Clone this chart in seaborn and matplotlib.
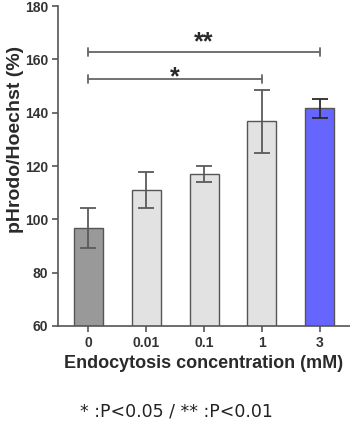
import matplotlib
matplotlib.use("Agg")
import matplotlib.pyplot as plt
import seaborn as sns
import pandas as pd

categories = ["0", "0.01", "0.1", "1", "3"]
means = [96.7, 111.0, 117.0, 136.7, 141.6]
errors = [7.5, 6.6, 3.0, 11.8, 3.5]
bar_colors = ["#999999", "#e2e2e2", "#e2e2e2", "#e2e2e2", "#6666ff"]
err_colors = ["#5a5a5a", "#5a5a5a", "#5a5a5a", "#5a5a5a", "#2a2a2a"]
yticks = [60, 80, 100, 120, 140, 160, 180]
# (from, to, line y, star baseline y, label)
sig_pairs = [("0", "1", 152.6, 150.6, "*"), ("0", "3", 162.6, 163.6, "**")]
footnote = "* :P<0.05 / ** :P<0.01"

sns.set_style("ticks")
plt.rcParams["font.family"] = ["Liberation Sans", "DejaVu Sans"]

df = pd.DataFrame({"conc": categories, "val": means})

fig = plt.figure(figsize=(3.5, 4.21), dpi=100)
ax = fig.add_axes([0.166, 0.2257, 0.834, 0.76])

sns.barplot(data=df, x="conc", y="val", hue="conc", palette=bar_colors,
            order=categories, hue_order=categories, legend=False, saturation=1,
            width=0.5, edgecolor="#555555", linewidth=1.0, errorbar=None, ax=ax)

for i, (m, e) in enumerate(zip(means, errors)):
    ax.errorbar(i, m, yerr=e, fmt="none", ecolor=err_colors[i],
                elinewidth=1.3, capsize=5.5, capthick=1.3)

for a, b, y, ty, label in sig_pairs:
    x0, x1 = categories.index(a), categories.index(b)
    ax.plot([x0, x1], [y, y], color="#666666", lw=1.3)
    for xx in (x0, x1):
        ax.plot([xx, xx], [y - 1.5, y + 1.5], color="#666666", lw=1.3)
    ax.text((x0 + x1) / 2, ty, label, ha="center", va="baseline",
            fontsize=18, fontweight="bold", color="#2a2a2a")

ax.set_ylim(60, 180)
ax.set_xlim(-0.52, 4.52)
ax.set_yticks(yticks)
ax.set_yticklabels([str(t) for t in yticks], fontweight="bold", fontsize=10, color="#333333")
ax.set_xticks(range(len(categories)))
ax.set_xticklabels(categories, fontweight="bold", fontsize=10, color="#333333")
ax.set_ylabel("pHrodo/Hoechst (%)", fontweight="bold", fontsize=14, color="#2a2a2a")
ax.yaxis.set_label_coords(-0.118, 0.584)
ax.set_xlabel("Endocytosis concentration (mM)", fontweight="bold", fontsize=13, color="#2a2a2a", labelpad=4)

for s in ("top", "right"):
    ax.spines[s].set_visible(False)
for s in ("left", "bottom"):
    ax.spines[s].set_color("#555555")
    ax.spines[s].set_linewidth(1.2)
ax.tick_params(axis="both", color="#555555", width=1.2, length=4, pad=3)

fig.text(176 / 350, 1 - 411 / 421, footnote, ha="center", va="center",
         fontsize=12.5, color="#222222", family=["DejaVu Sans"])

fig.savefig("out.png", dpi=100)
